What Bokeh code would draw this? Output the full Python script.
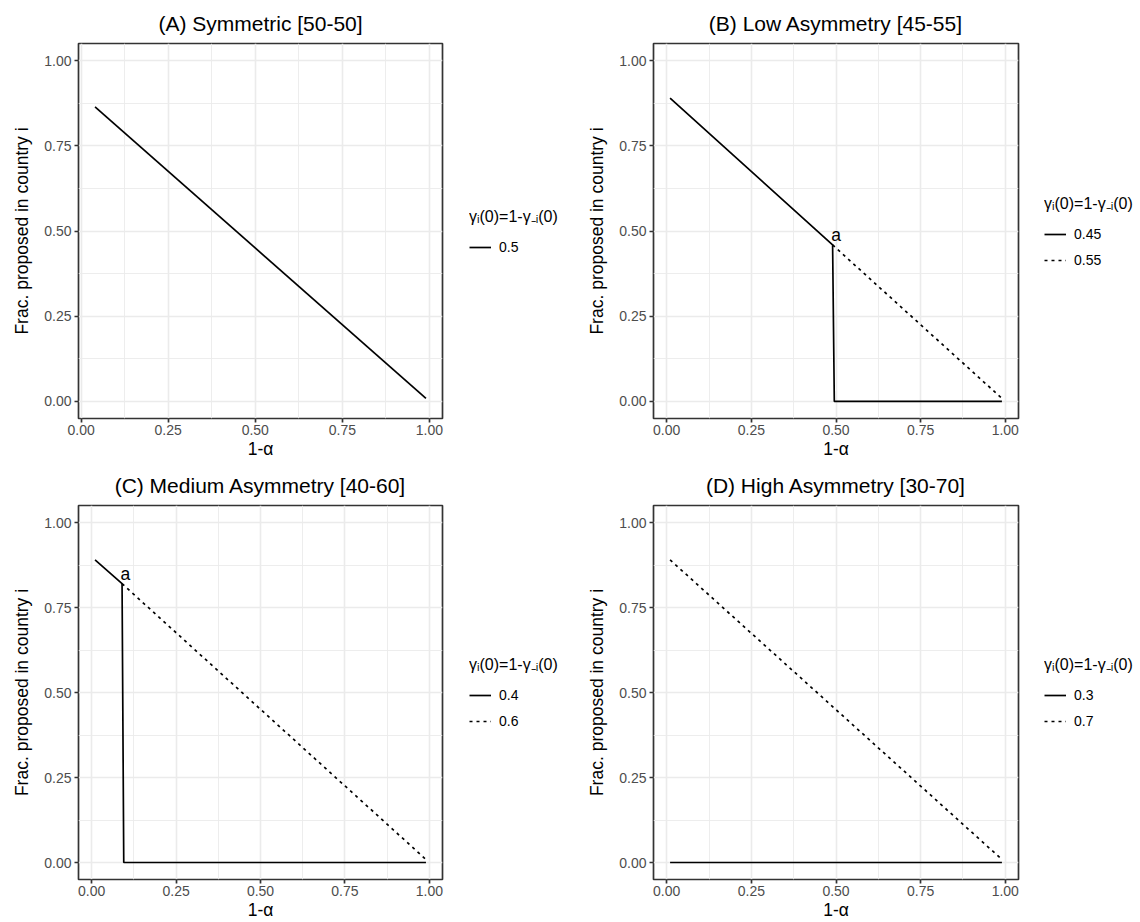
from bokeh.plotting import figure
from bokeh.layouts import column, row
from bokeh.models import (Range1d, FixedTicker, NumeralTickFormatter, Legend, LegendItem)
from bokeh.core.properties import value
from bokeh.embed import file_html
from bokeh.resources import INLINE

FONT = "Liberation Sans"

panel_titles = ["(A) Symmetric [50-50]", "(B) Low Asymmetry [45-55]",
                "(C) Medium Asymmetry [40-60]", "(D) High Asymmetry [30-70]"]
legend_title = "γᵢ(0)=1-γ₋ᵢ(0)"
x_axis_label = "1-α"
y_axis_label = "Frac. proposed in country i"
tick_values = [0.0, 0.25, 0.5, 0.75, 1.0]
minor_tick_values = [0.125, 0.375, 0.625, 0.875]
point_text = ["a"]

# Panel A
a_solid_label = "0.5"
a_solid_x = [0.04, 0.99]
a_solid_y = [0.864, 0.009]

# Panel B
b_solid_label = "0.45"
b_solid_x = [0.01, 0.49, 0.495, 0.99]
b_solid_y = [0.89, 0.459, 0.0, 0.0]
b_dotted_label = "0.55"
b_dotted_x = [0.49, 0.99]
b_dotted_y = [0.459, 0.009]
b_point_x = [0.49]
b_point_y = [0.459]

# Panel C
c_solid_label = "0.4"
c_solid_x = [0.01, 0.09, 0.095, 0.99]
c_solid_y = [0.89, 0.82, 0.0, 0.0]
c_dotted_label = "0.6"
c_dotted_x = [0.09, 0.99]
c_dotted_y = [0.82, 0.009]
c_point_x = [0.09]
c_point_y = [0.82]

# Panel D
d_solid_label = "0.3"
d_solid_x = [0.01, 0.99]
d_solid_y = [0.0, 0.0]
d_dotted_label = "0.7"
d_dotted_x = [0.01, 0.99]
d_dotted_y = [0.89, 0.009]

SOLID = "solid"
DOTTED = "3 4"
H = 461


def make_panel(title, series, point, xr, left, frame_w, top, bottom):
    right = 2
    p = figure(width=left + frame_w + right, height=H, title=title,
               x_range=Range1d(*xr), y_range=Range1d(-0.05, 1.05),
               output_backend="svg", toolbar_location=None,
               min_border_left=left, min_border_right=right,
               min_border_top=top, min_border_bottom=bottom,
               background_fill_color="white", border_fill_color="white")
    p.title.text_font = FONT
    p.title.text_font_size = "21px"
    p.title.text_font_style = "normal"
    p.title.text_color = "black"
    p.title.align = "center"
    p.title.standoff = 17

    p.outline_line_color = "#333333"
    p.outline_line_width = 1.7

    ticker = FixedTicker(ticks=tick_values, minor_ticks=minor_tick_values)
    for ax in (p.xaxis[0], p.yaxis[0]):
        ax.ticker = ticker
        ax.formatter = NumeralTickFormatter(format="0.00")
        ax.axis_line_color = None
        ax.major_tick_line_color = "#333333"
        ax.major_tick_line_width = 1.7
        ax.major_tick_out = 4
        ax.major_tick_in = 0
        ax.minor_tick_line_color = None
        ax.major_label_text_font = FONT
        ax.major_label_text_font_size = "14px"
        ax.major_label_text_color = "#4D4D4D"
        ax.axis_label_text_font = FONT
        ax.axis_label_text_font_size = "17.5px"
        ax.axis_label_text_font_style = "normal"
        ax.axis_label_text_color = "black"
    p.xaxis.axis_label = x_axis_label
    p.yaxis.axis_label = y_axis_label
    p.xaxis.major_label_standoff = 2
    p.xaxis.axis_label_standoff = 1
    p.yaxis.major_label_standoff = 3
    p.yaxis.axis_label_standoff = 9

    for g in (p.xgrid[0], p.ygrid[0]):
        g.ticker = ticker
        g.grid_line_color = "#EBEBEB"
        g.grid_line_width = 1.6
        g.minor_grid_line_color = "#EBEBEB"
        g.minor_grid_line_width = 0.9

    for lab, xs, ys, dash in series:
        p.line(xs, ys, line_color="black", line_width=1.7, line_dash=dash)

    if point is not None:
        px, py = point
        p.text(x=[v + 0.01 for v in px], y=[v + 0.03 for v in py], text=point_text,
               text_font=value(FONT), text_font_size="17.5px",
               text_align="center", text_baseline="middle", text_color="black")
    return p


def make_legend(series, width, offset, top, bottom):
    # a narrow companion figure that only carries the legend; the series are
    # re-drawn here outside of its visible range so that the legend keys render
    q = figure(width=width, height=H, x_range=Range1d(10, 11), y_range=Range1d(10, 11),
               x_axis_location=None, y_axis_location=None,
               output_backend="svg", toolbar_location=None,
               min_border_left=offset, min_border_right=0,
               min_border_top=top, min_border_bottom=bottom,
               background_fill_color="white", border_fill_color="white")
    q.outline_line_color = None
    q.xgrid.visible = False
    q.ygrid.visible = False
    items = []
    for lab, xs, ys, dash in series:
        r = q.line(xs, ys, line_color="black", line_width=1.7, line_dash=dash)
        items.append(LegendItem(label=lab, renderers=[r]))
    leg = Legend(items=items, title=legend_title, location="center_left",
                 title_text_font=FONT, title_text_font_size="16px",
                 title_text_font_style="normal", title_text_color="black",
                 title_standoff=10,
                 label_text_font=FONT, label_text_font_size="14px", label_text_color="black",
                 glyph_width=22, glyph_height=20, label_standoff=8, spacing=6,
                 padding=0, margin=0, border_line_color=None,
                 background_fill_alpha=0)
    q.add_layout(leg)
    return q


series_a = [(a_solid_label, a_solid_x, a_solid_y, SOLID)]
series_b = [(b_solid_label, b_solid_x, b_solid_y, SOLID),
            (b_dotted_label, b_dotted_x, b_dotted_y, DOTTED)]
series_c = [(c_solid_label, c_solid_x, c_solid_y, SOLID),
            (c_dotted_label, c_dotted_x, c_dotted_y, DOTTED)]
series_d = [(d_solid_label, d_solid_x, d_solid_y, SOLID),
            (d_dotted_label, d_dotted_x, d_dotted_y, DOTTED)]

pA = make_panel(panel_titles[0], series_a, None, (-0.0075, 1.0375), 78, 364, 43, 43)
lA = make_legend(series_a, 126, 25, 43, 43)
pB = make_panel(panel_titles[1], series_b, (b_point_x, b_point_y), (-0.039, 1.039), 83, 365, 43, 43)
lB = make_legend(series_b, 120, 24, 43, 43)
pC = make_panel(panel_titles[2], series_c, (c_point_x, c_point_y), (-0.039, 1.039), 78, 364, 44, 42)
lC = make_legend(series_c, 126, 25, 44, 42)
pD = make_panel(panel_titles[3], series_d, None, (-0.039, 1.039), 83, 365, 44, 42)
lD = make_legend(series_d, 120, 24, 44, 42)

layout = column(row(pA, lA, pB, lB), row(pC, lC, pD, lD))
open("out.html", "w").write(file_html(layout, INLINE))
